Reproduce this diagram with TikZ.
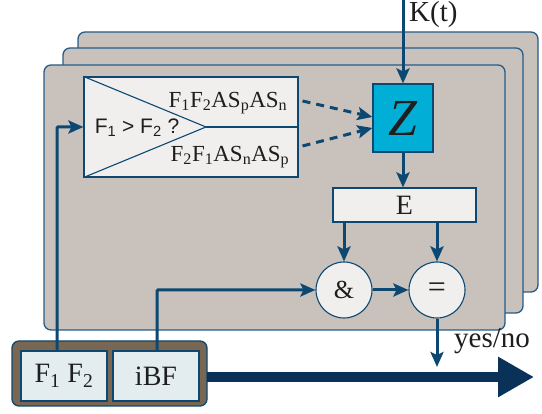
\documentclass[tikz,border=0pt]{standalone}
\usepackage{fontspec}
\setmainfont{Liberation Serif}
\newfontfamily\arialfont{Liberation Sans}
\usetikzlibrary{positioning,arrows.meta,calc}

\definecolor{panelFill}{RGB}{201,194,188}
\definecolor{panelLine}{RGB}{38,92,135}
\definecolor{flowColor}{RGB}{12,72,114}
\definecolor{boxFill}{RGB}{240,239,238}
\definecolor{zFill}{RGB}{0,174,214}
\definecolor{srcFill}{RGB}{227,237,239}
\definecolor{srcFrame}{RGB}{122,103,83}
\definecolor{busColor}{RGB}{10,50,88}
\definecolor{textColor}{RGB}{30,30,30}

\newcommand{\sbs}[1]{\textsubscript{#1}}

\begin{document}
\begin{tikzpicture}[x=1pt,y=1pt,
  panel/.style={draw=panelLine,line width=1.3pt,fill=panelFill,rounded corners=7pt},
  blockbox/.style={draw=flowColor,line width=1.1pt,fill=boxFill,inner sep=0pt,text=textColor},
  gate/.style={circle,draw=flowColor,line width=1.1pt,fill=boxFill,minimum size=56pt,inner sep=0pt,text=textColor,font=\fontsize{26}{28}\selectfont},
  srcbox/.style={draw=flowColor,line width=1.1pt,fill=srcFill,inner sep=0pt,minimum width=86pt,minimum height=50pt,text=textColor,font=\fontsize{28}{30}\selectfont},
  flow/.style={draw=flowColor,line width=3pt,-{Stealth[length=15pt,width=13pt,inset=3pt]}},
  dflow/.style={flow,dash pattern=on 8pt off 6pt},
  lbl/.style={inner sep=0pt,text=textColor}]
\path[use as bounding box] (0,0) rectangle (542,414);

% stacked panels
\foreach \xa/\ya/\xb/\yb in {78/122/538/382,63/101/523/366,44/84/505/349}
  \path[panel] (\xa,\ya) rectangle (\xb,\yb);

% comparator
\node[blockbox,minimum width=214pt,minimum height=100pt] (cmp) at (191,287) {};
\draw[flowColor,line width=1.1pt] (cmp.north west) -- (206,287) -- (cmp.south west);
\draw[flowColor,line width=1.1pt] (206,287) -- (cmp.east);
\node[lbl,font=\arialfont\fontsize{21}{23}\selectfont] (cmpq) at (137,286) {F\sbs{1} > F\sbs{2} ?};
\node[lbl,font=\fontsize{23}{25}\selectfont] (pn) at (228,311) {F\sbs{1}F\sbs{2}AS\sbs{p}AS\sbs{n}};
\node[lbl,font=\fontsize{23}{25}\selectfont] (np) at (230,257) {F\sbs{2}F\sbs{1}AS\sbs{n}AS\sbs{p}};

% Z, E and the gates
\node[blockbox,fill=zFill,minimum width=60pt,minimum height=68pt,font=\fontsize{52}{54}\selectfont\itshape] (z) at (403,296) {Z};
\node[blockbox,minimum width=143pt,minimum height=34pt,font=\fontsize{28}{30}\selectfont] (e) at (404.5,209) {E};
\node[gate] (and) at (344,124) {\&};
\node[gate,font=\fontsize{32}{34}\selectfont] (eq) at (437,124) {=};

% source block
\path[draw=flowColor,line width=1.3pt,fill=srcFrame,rounded corners=7pt] (12,8) rectangle (207,73);
\node[srcbox] (f12) at (64,38) {F\sbs{1} F\sbs{2}};
\node[srcbox] (ibf) at (156,38) {iBF};
\coordinate (busend) at (534,37);
\draw[busColor,line width=10pt,-{Triangle[length=36pt,width=38pt]}] (207,37) -- (busend);

% connectors
\coordinate (kin) at (z.north |- 0,414);
\draw[flow] (kin) -- (z.north);
\node[lbl,anchor=west,font=\fontsize{29}{31}\selectfont] (kt) at (409,399) {K(t)};
\draw[dflow] ([xshift=4pt,yshift=26pt]cmp.east) -- ([yshift=1pt]z.west);
\draw[dflow] ([xshift=4pt,yshift=-19pt]cmp.east) -- ([yshift=-10pt]z.west);
\draw[flow] (z.south) -- (z.south |- e.north);
\draw[flow] (and.north |- e.south) -- (and.north);
\draw[flow] (eq.north |- e.south) -- (eq.north);
\draw[flow] (and.east) -- (eq.west);
\coordinate (out) at (437,47);
\draw[flow] (eq.south) -- (out);
\node[lbl,anchor=west,font=\fontsize{29}{31}\selectfont] (yn) at (454,73) {yes/no};
\draw[flow,rounded corners=1pt] ([xshift=-7pt]f12.north) |- (cmp.west);
\draw[flow,rounded corners=1pt] (157,63) |- (and.west);
\end{tikzpicture}
\end{document}
